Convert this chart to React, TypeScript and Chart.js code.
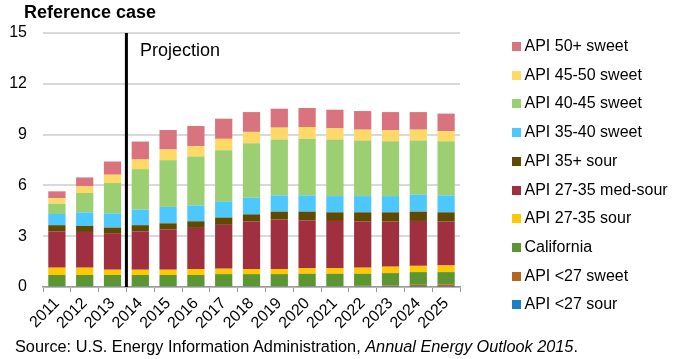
import React, { useEffect, useRef } from "react";
import { Chart, registerables } from "chart.js";

Chart.register(...registerables);

const years = ["2011","2012","2013","2014","2015","2016","2017","2018","2019","2020","2021","2022","2023","2024","2025"];

const api27Sour = [0.05,0.05,0.05,0.05,0.05,0.05,0.05,0.05,0.05,0.05,0.05,0.05,0.03,0.03,0.03];
const api27Sweet = [0,0,0,0,0,0,0,0,0,0,0,0.02,0.07,0.10,0.13];
const california = [0.66,0.66,0.66,0.66,0.66,0.66,0.71,0.71,0.71,0.73,0.73,0.71,0.72,0.75,0.72];
const api2735Sour = [0.43,0.43,0.31,0.31,0.31,0.35,0.32,0.30,0.30,0.34,0.34,0.36,0.38,0.37,0.39];
const api2735MedSour = [2.15,2.11,2.16,2.27,2.37,2.43,2.59,2.82,2.92,2.82,2.78,2.72,2.66,2.65,2.59];
const api35Sour = [0.36,0.36,0.33,0.36,0.37,0.39,0.43,0.41,0.47,0.51,0.51,0.55,0.55,0.55,0.55];
const api3540Sweet = [0.66,0.80,0.84,0.92,0.97,0.94,0.94,0.98,0.96,0.96,0.96,0.96,0.96,1.00,1.00];
const api4045Sweet = [0.61,1.14,1.79,2.39,2.76,2.89,3.04,3.22,3.30,3.35,3.34,3.28,3.24,3.20,3.20];
const api4550Sweet = [0.32,0.39,0.49,0.57,0.63,0.60,0.67,0.67,0.70,0.69,0.66,0.64,0.64,0.64,0.59];
const api50Sweet = [0.41,0.53,0.78,1.06,1.15,1.20,1.19,1.17,1.12,1.12,1.10,1.10,1.08,1.04,1.04];

const seriesNames = ["API <27 sour","API <27 sweet","California","API 27-35 sour","API 27-35 med-sour","API 35+ sour","API 35-40 sweet","API 40-45 sweet","API 45-50 sweet","API 50+ sweet"];
const seriesData = [api27Sour, api27Sweet, california, api2735Sour, api2735MedSour, api35Sour, api3540Sweet, api4045Sweet, api4550Sweet, api50Sweet];
const seriesColors = ["#1A82C4","#B4661E","#5B9632","#FFC800","#A03040","#604A00","#4DC8FF","#9BCF72","#FFD966","#D9737E"];

const yTicks = [0, 3, 6, 9, 12, 15];

const FONT = "'Liberation Sans', Arial, sans-serif";

const projectionLine = {
  id: "projectionLine",
  afterDatasetsDraw(chart: any) {
    const x = chart.scales.x;
    const area = chart.chartArea;
    const px = (x.getPixelForValue(2) + x.getPixelForValue(3)) / 2;
    const ctx = chart.ctx;
    ctx.save();
    ctx.strokeStyle = "#000";
    ctx.lineWidth = 3;
    ctx.beginPath();
    ctx.moveTo(px, area.top);
    ctx.lineTo(px, area.bottom);
    ctx.stroke();
    ctx.restore();
  },
};

export default function App() {
  const ref = useRef<HTMLCanvasElement>(null);
  useEffect(() => {
    if (!ref.current) return;
    const chart = new Chart(ref.current, {
      type: "bar",
      data: {
        labels: years,
        datasets: seriesNames.map((n, i) => ({
          label: n,
          data: seriesData[i],
          backgroundColor: seriesColors[i],
          borderWidth: 0,
          categoryPercentage: 1,
          barPercentage: 0.62,
        })),
      },
      options: {
        animation: false,
        responsive: false,
        devicePixelRatio: 1,
        layout: { padding: { left: 0, right: 220, top: 33, bottom: 0 } },
        plugins: { legend: { display: false }, tooltip: { enabled: false }, title: { display: false } },
        scales: {
          x: {
            stacked: true,
            grid: { display: true, drawOnChartArea: false, drawTicks: true, tickLength: 5, color: "#999", offset: true },
            border: { display: true, color: "#999", width: 1.5 },
            ticks: { color: "#000", font: { family: FONT, size: 16 }, minRotation: 45, maxRotation: 45, autoSkip: false, padding: 2 },
            afterFit: (s: any) => { s.height = 72; },
          },
          y: {
            stacked: true,
            min: 0,
            max: 15,
            afterBuildTicks: (s: any) => { s.ticks = yTicks.map((v) => ({ value: v })); },
            grid: { color: "#d9d9d9", lineWidth: 2, drawTicks: false },
            border: { display: false },
            ticks: { color: "#000", font: { family: FONT, size: 16 }, padding: 16 },
            afterFit: (s: any) => { s.width = 43; },
          },
        },
      },
      plugins: [projectionLine],
    });
    return () => chart.destroy();
  }, []);

  const legendOrder = seriesNames.map((_, i) => seriesNames.length - 1 - i);

  return (
    <div style={{ position: "absolute", left: 0, top: 0, width: 680, height: 359, fontFamily: FONT, color: "#000", background: "#fff" }}>
      <canvas ref={ref} width={680} height={359} style={{ position: "absolute", left: 0, top: 0, width: 680, height: 359 }} />
      <div style={{ position: "absolute", left: 24, top: 3.3, fontSize: 18, fontWeight: "bold", lineHeight: 1, whiteSpace: "nowrap" }}>Reference case</div>
      <div style={{ position: "absolute", left: 140, top: 40.8, fontSize: 18, lineHeight: 1, whiteSpace: "nowrap" }}>Projection</div>
      {legendOrder.map((si, k) => (
        <React.Fragment key={si}>
          <div style={{ position: "absolute", left: 512, top: 42 + 28.7 * k, width: 9, height: 9, background: seriesColors[si] }} />
          <div style={{ position: "absolute", left: 524.5, top: 38 + 28.7 * k, fontSize: 16, lineHeight: 1, whiteSpace: "nowrap" }}>{seriesNames[si]}</div>
        </React.Fragment>
      ))}
      <div style={{ position: "absolute", left: 15, top: 337.8, fontSize: 16.3, lineHeight: 1, whiteSpace: "nowrap" }}>
        Source: U.S. Energy Information Administration, <i>Annual Energy Outlook 2015</i>.
      </div>
    </div>
  );
}
